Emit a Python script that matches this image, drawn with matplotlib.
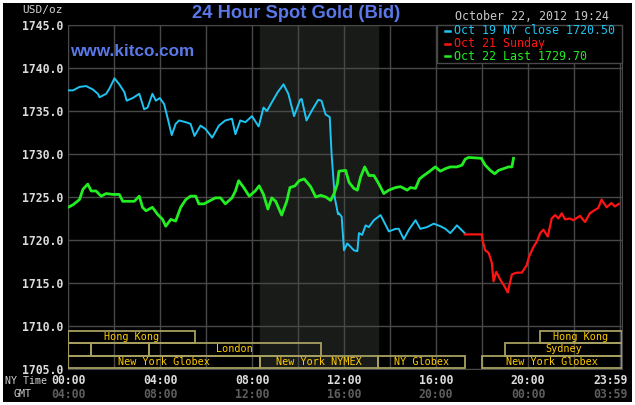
import matplotlib
matplotlib.use('Agg')
import matplotlib.pyplot as plt
from matplotlib.patches import Rectangle
from matplotlib.transforms import blended_transform_factory

# hours (NY time) and bid prices
oct19_t = [0, 0.22, 0.50, 0.79, 1.08, 1.30, 1.37, 1.66, 1.80, 2.02, 2.23, 2.45, 2.55,
           2.81, 3.10, 3.31, 3.46, 3.67, 3.82, 3.99, 4.18, 4.32, 4.51, 4.68, 4.83,
           5.12, 5.33, 5.50, 5.76, 5.98, 6.27, 6.56, 6.84, 7.13, 7.28, 7.49, 7.71,
           8.00, 8.29, 8.50, 8.65, 8.86, 9.12, 9.37, 9.58, 9.83, 10.09, 10.16, 10.37,
           10.59, 10.88, 11.02, 11.20, 11.38, 11.46, 11.60, 11.74, 11.78, 11.90,
           12.00, 12.14, 12.29, 12.43, 12.58, 12.65, 12.79, 12.94, 13.08, 13.30,
           13.59, 13.78, 13.95, 14.24, 14.38, 14.60, 14.82, 15.11, 15.32, 15.61,
           15.90, 16.19, 16.41, 16.62, 16.91, 17.06, 17.25]
oct19_p = [1737.4, 1737.4, 1737.8, 1737.9, 1737.5, 1737.0, 1736.6, 1737.0, 1737.6,
           1738.8, 1738.1, 1737.2, 1736.2, 1736.5, 1737.0, 1735.2, 1735.4, 1737.0,
           1736.2, 1736.5, 1735.8, 1734.3, 1732.2, 1733.5, 1733.9, 1733.7, 1733.5,
           1732.1, 1733.3, 1732.9, 1731.9, 1733.3, 1733.9, 1734.1, 1732.3, 1733.9,
           1733.7, 1734.4, 1733.2, 1735.4, 1735.0, 1736.0, 1737.2, 1738.1, 1737.0,
           1734.4, 1736.3, 1736.4, 1733.9, 1735.0, 1736.3, 1736.2, 1734.6, 1734.3,
           1730.0, 1724.9, 1723.0, 1723.1, 1722.7, 1718.8, 1719.6, 1719.2, 1718.8,
           1718.7, 1720.8, 1720.6, 1721.7, 1721.5, 1722.3, 1722.9, 1721.9, 1721.0,
           1721.3, 1721.3, 1720.1, 1721.2, 1722.3, 1721.3, 1721.5, 1721.9, 1721.6,
           1721.3, 1720.8, 1721.7, 1721.3, 1720.8]

oct21_t = [17.25, 18.00, 18.02, 18.14, 18.29, 18.43, 18.50, 18.62, 18.79, 18.94, 19.12,
           19.30, 19.51, 19.73, 19.95, 20.05, 20.24, 20.38, 20.53, 20.67, 20.86, 21.03,
           21.18, 21.32, 21.47, 21.61, 21.83, 21.97, 22.26, 22.48, 22.69, 22.91, 23.05,
           23.20, 23.42, 23.63, 23.78, 23.95]
oct21_p = [1720.65, 1720.65, 1720.0, 1718.8, 1718.5, 1717.3, 1715.2, 1716.3, 1715.4,
           1714.8, 1713.9, 1716.0, 1716.2, 1716.2, 1717.1, 1718.1, 1719.2, 1719.8,
           1720.8, 1721.2, 1720.4, 1722.5, 1722.9, 1722.5, 1723.1, 1722.4, 1722.5,
           1722.3, 1722.8, 1722.1, 1723.1, 1723.5, 1723.7, 1724.7, 1723.8, 1724.3,
           1723.9, 1724.2]

oct22_t = [0, 0.22, 0.50, 0.65, 0.86, 1.01, 1.22, 1.44, 1.66, 1.95, 2.23, 2.38, 2.67,
           2.88, 3.10, 3.24, 3.39, 3.67, 3.89, 4.11, 4.25, 4.47, 4.68, 4.90, 5.12,
           5.33, 5.55, 5.69, 5.91, 6.12, 6.41, 6.63, 6.84, 7.13, 7.28, 7.42, 7.64,
           7.88, 8.14, 8.31, 8.50, 8.69, 8.86, 9.03, 9.29, 9.51, 9.65, 9.87, 10.05,
           10.27, 10.55, 10.77, 10.99, 11.21, 11.42, 11.57, 11.71, 11.78, 12.07,
           12.22, 12.43, 12.58, 12.72, 12.90, 13.08, 13.30, 13.52, 13.73, 13.95,
           14.24, 14.46, 14.75, 14.89, 15.11, 15.28, 15.47, 15.68, 15.97, 16.19,
           16.41, 16.62, 16.91, 17.13, 17.27, 17.42, 17.97, 18.14, 18.36, 18.55,
           18.72, 18.94, 19.15, 19.30, 19.37]
oct22_p = [1723.8, 1724.1, 1724.7, 1725.9, 1726.5, 1725.7, 1725.7, 1725.1, 1725.4,
           1725.3, 1725.3, 1724.5, 1724.5, 1724.5, 1725.1, 1723.8, 1723.4, 1723.8,
           1723.0, 1722.4, 1721.6, 1722.4, 1722.2, 1723.8, 1724.7, 1725.1, 1725.1,
           1724.2, 1724.2, 1724.5, 1724.9, 1724.9, 1724.2, 1724.9, 1725.7, 1726.9,
           1726.1, 1725.1, 1725.7, 1726.3, 1725.3, 1723.6, 1724.9, 1724.5, 1722.9,
           1724.5, 1726.1, 1726.3, 1726.9, 1727.1, 1726.2, 1725.0, 1725.2, 1725.0,
           1724.6, 1725.4, 1726.5, 1728.0, 1728.1, 1726.7, 1726.0, 1725.8, 1727.3,
           1728.5, 1727.5, 1727.5, 1726.5, 1725.4, 1725.8, 1726.1, 1726.2, 1725.8,
           1726.1, 1726.0, 1727.1, 1727.5, 1727.9, 1728.5, 1728.0, 1728.3, 1728.5,
           1728.5, 1728.7, 1729.4, 1729.6, 1729.5, 1728.7, 1728.1, 1727.7, 1728.1,
           1728.3, 1728.5, 1728.5, 1729.5]

legend_labels = ["Oct 19 NY close 1720.50", "Oct 21 Sunday", "Oct 22 Last 1729.70"]

# market sessions: (row, start hour, end hour, name)
sessions = [(2, 0, 5.5, "Hong Kong"), (2, 20.5, 24.09, "Hong Kong"),
            (1, 0, 1.0, ""), (1, 1.0, 3.5, ""), (1, 3.5, 11.0, "London"),
            (1, 19.0, 24.09, "Sydney"),
            (0, 0, 8.33, "New York Globex"), (0, 8.33, 13.5, "New York NYMEX"),
            (0, 13.5, 17.25, "NY Globex"), (0, 18.0, 24.09, "New York Globex")]

ny_ticks = [0, 4, 8, 12, 16, 20, 23.6]
ny_labels = ["00:00", "04:00", "08:00", "12:00", "16:00", "20:00", "23:59"]
gmt_labels = ["04:00", "08:00", "12:00", "16:00", "20:00", "00:00", "03:59"]

W, H = 635, 405
def fx(x):
    return x / W
def fy(y):
    return 1 - y / H

fig = plt.figure(figsize=(W / 100, H / 100), dpi=100)
fig.patch.set_facecolor('white')
fig.add_artist(Rectangle((fx(3), fy(402)), fx(629), (399) / H, transform=fig.transFigure,
                         facecolor='black', edgecolor='none', zorder=-10))

ax = fig.add_axes([fx(68), fy(369), (622 - 68) / W, (369 - 25) / H])
ax.set_facecolor('black')
ax.set_xlim(0, 554 / 23)
ax.set_ylim(1705, 1745)
gridc = '#484848'
for s in ax.spines.values():
    s.set_color(gridc)
ax.set_axisbelow(True)
ax.set_xticks(range(0, 25, 2))
ax.set_yticks(range(1705, 1746, 5))
ax.grid(True, color=gridc, lw=1)
ax.tick_params(length=0, pad=3.5, labelbottom=False)
ax.set_yticklabels(["%.1f" % v for v in range(1705, 1746, 5)], family='DejaVu Sans Mono',
                   fontsize=8.3, color='#dcdcdc', weight='bold')

ax.axvspan(8 + 1 / 3, 13.5, color='#191b19', zorder=0)

ax.plot(oct19_t, oct19_p, color='#1ec4f2', lw=1.4, zorder=3)
ax.plot(oct21_t, oct21_p, color='#ff1414', lw=1.6, zorder=3)
ax.plot(oct22_t, oct22_p, color='#22ee22', lw=2.0, zorder=4)

row_h = 1.45
for row, a, b, name in sessions:
    y0 = 1705.1 + row * row_h
    ax.add_patch(Rectangle((a, y0), b - a, row_h, facecolor='none', edgecolor='#a8a060',
                           lw=1.3, zorder=5))
    if name:
        ax.text((a + b) / 2, y0 + row_h / 2, name, ha='center', va='center',
                family='DejaVu Sans Mono', fontsize=7.3, color='#ffcc00', zorder=6)

# x labels: NY time and GMT
tr = blended_transform_factory(ax.transData, fig.transFigure)
for t, a, g in zip(ny_ticks, ny_labels, gmt_labels):
    ax.text(t, fy(381), a, transform=tr, ha='center', va='center', family='DejaVu Sans Mono',
            fontsize=8.3, weight='bold', color='#dcdcdc')
    ax.text(t, fy(395), g, transform=tr, ha='center', va='center', family='DejaVu Sans Mono',
            fontsize=8.3, weight='bold', color='#5e5e5e')
fig.text(fx(26), fy(381), "NY Time", ha='center', va='center', family='DejaVu Sans Mono',
         fontsize=7.2, color='#d0d0d0')
fig.text(fx(23), fy(394), "GMT", ha='center', va='center', family='DejaVu Sans Mono',
         fontsize=7.2, color='#d0d0d0')
fig.text(fx(63), fy(10), "USD/oz", ha='right', va='center', family='DejaVu Sans Mono',
         fontsize=8, color='#d0d0d0')

# titles
fig.text(fx(296), fy(13), "24 Hour Spot Gold (Bid)", ha='center', va='center',
         family='Liberation Sans', weight='bold', fontsize=13.2, color='#5a78e8')
ax.text(fx(70), fy(51), "www.kitco.com", transform=fig.transFigure, ha='left', va='center',
        family='Liberation Sans', weight='bold', fontsize=12.3, color='#5a78e8', zorder=7)
fig.text(fx(532), fy(16), "October 22, 2012 19:24", ha='center', va='center',
         family='DejaVu Sans Mono', fontsize=8.4, color='#c8c8c8')

# legend box
fig.add_artist(Rectangle((fx(437), fy(63)), fx(622 - 437), (63 - 25) / H,
                         transform=fig.transFigure, facecolor='black', edgecolor=gridc,
                         lw=1, zorder=5))
for i, (lab, c) in enumerate(zip(legend_labels, ['#1ec4f2', '#ff1414', '#22ee22'])):
    yy = fy(31 + i * 12.5)
    fig.add_artist(plt.Line2D([fx(445), fx(450)], [yy, yy], color=c, lw=1.8,
                              transform=fig.transFigure, zorder=6))
    fig.text(fx(454), yy, lab, ha='left', va='center', family='DejaVu Sans Mono',
             fontsize=8.4, color=c, zorder=6)

fig.savefig("out.png", dpi=100, facecolor=fig.get_facecolor())
